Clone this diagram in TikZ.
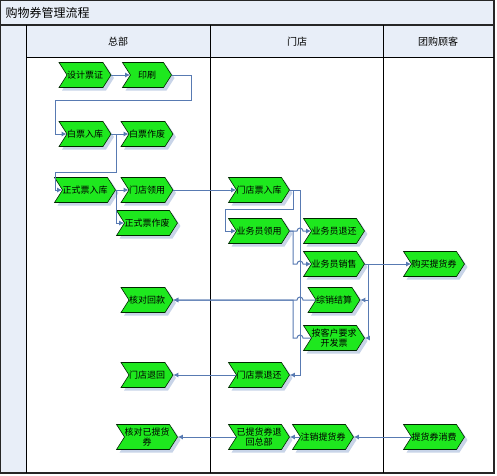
\documentclass[tikz,border=0pt]{standalone}
\usepackage{fontspec}
\newfontfamily\cjk{Noto Sans CJK SC}
\usetikzlibrary{shapes.symbols,shadows,arrows.meta,calc}
\definecolor{chevgreen}{RGB}{30,232,30}
\definecolor{connc}{RGB}{88,122,178}
\definecolor{hdr}{RGB}{232,238,248}
\definecolor{shd}{RGB}{200,212,232}
\begin{document}
\begin{tikzpicture}[x=1pt,y=-1pt,
  chev/.style={signal, signal to=east, signal from=west, signal pointer angle=115,
    draw=black!85!green, line width=0.6pt, fill=chevgreen, minimum width=49pt, minimum height=25pt,
    inner sep=0pt, font=\cjk\fontsize{9}{10}\selectfont, align=center,
    drop shadow={fill=shd, opacity=1, shadow xshift=3pt, shadow yshift=-3pt}},
  flow/.style={draw=connc, line width=1pt, -{Latex[length=5pt,width=5pt]}},
  plain/.style={draw=connc, line width=1pt},
  frame/.style={draw=black!85, line width=1.3pt},
  lane/.style={draw=black, line width=1pt},
  hdrtext/.style={font=\cjk\fontsize{10}{12}\selectfont}]
\useasboundingbox (0,0) rectangle (497,475);
% pool background
\fill[hdr] (0,0) rectangle (494,25);
\fill[hdr] (0,25) rectangle (26,473);
\fill[hdr] (26,25) rectangle (494,57);
\draw[frame] (0.7,0.7) rectangle (494,473);
\draw[frame] (0.7,25) -- (494,25);
\draw[lane] (26,25) -- (26,473);
\draw[lane] (26,57) -- (494,57);
\draw[lane] (210,25) -- (210,473);
\draw[lane] (383,25) -- (383,473);
\node[anchor=west, font=\cjk\fontsize{12}{14}\selectfont] (title) at (2,13) {购物券管理流程};
\node[hdrtext] (h1) at (118,42) {总部};
\node[hdrtext] (h2) at (297,42) {门店};
\node[hdrtext] (h3) at (438,42) {团购顾客};
% nodes
\node[chev] (A) at (85,75) {设计票证};
\node[chev] (B) at (147,75) {印刷};
\node[chev] (C) at (85,134) {白票入库};
\node[chev] (D) at (147,134) {白票作废};
\node[chev] (E) at (85,190) {正式票入库};
\node[chev] (F) at (147,190) {门店领用};
\node[chev] (G) at (147,223) {正式票作废};
\node[chev] (H) at (259,190) {门店票入库};
\node[chev] (I) at (259,231) {业务员领用};
\node[chev] (J) at (334,231) {业务员退还};
\node[chev] (K) at (334,264) {业务员销售};
\node[chev] (L) at (334,300) {综销结算};
\node[chev] (M) at (334,338) {按客户要求\\开发票};
\node[chev] (N) at (434,264) {购买提货券};
\node[chev] (O) at (147,300) {核对回款};
\node[chev] (P) at (147,375) {门店退回};
\node[chev] (Q) at (259,375) {门店票退还};
\node[chev] (R) at (147,437) {核对已提货\\券};
\node[chev] (S) at (259,437) {已提货券退\\回总部};
\node[chev] (T) at (323,437) {注销提货券};
\node[chev] (U) at (434,437) {提货券消费};
% connectors
\draw[flow] (A.east) -- (B.west);
\draw[flow] (B.east) -- (191,75) |- (55,100) |- (C.west);
\draw[flow] (C.east) -- (D.west);
\draw[flow] (C.east) -- (116,134) |- (55,172) |- (E.west);
\draw[flow] (E.east) -- (F.west);
\draw[flow] (E.east) -- (116,190) |- (G.west);
\draw[flow] (F.east) -- (H.west);
\draw[flow] (H.east) -- (293,190) |- (225,209) |- (I.west);
\draw[flow] (H.east) -- (300,190) |- (Q.east);
\draw[flow] (Q.west) -- (P.east);
\draw[flow] (I.east) -- (297,231) arc (180:0:3pt) -- (J.west);
\draw[flow] (I.east) -- (293,231) |- (297,264) arc (180:0:3pt) -- (K.west);
\draw[flow] (K.east) -- (N.west);
\draw[flow] (K.east) -- (368,264) |- (L.east);
\draw[flow] (368,264) |- (M.east);
\draw[flow] (L.west) -- (303,300) arc (0:180:3pt) -- (O.east);
\draw[flow] (M.west) -- (303,338) arc (0:180:3pt) -- (293,338) |- (O.east);
\draw[flow] (U.west) -- (T.east);
\draw[flow] (T.west) -- (S.east);
\draw[flow] (S.west) -- (R.east);
\end{tikzpicture}
\end{document}
